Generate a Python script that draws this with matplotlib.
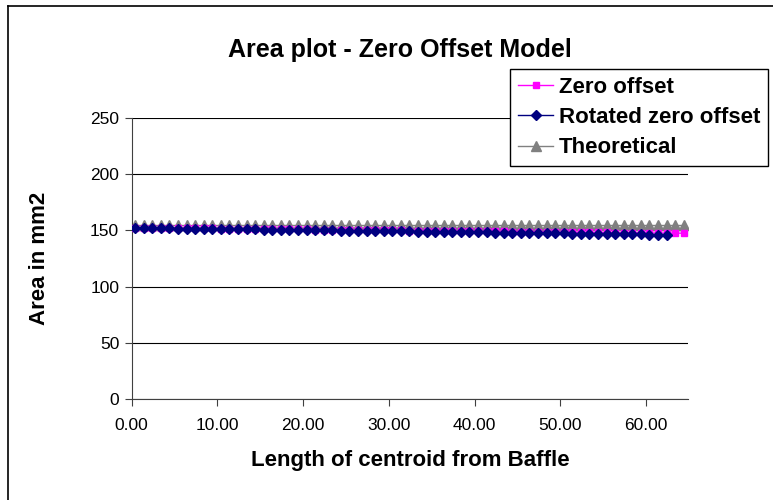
import matplotlib
matplotlib.use("Agg")
import matplotlib.pyplot as plt
from matplotlib.lines import Line2D
from matplotlib.ticker import FormatStrFormatter

plt.rcParams['font.family'] = ['Liberation Sans', 'DejaVu Sans']

# distance of centroid from baffle (one reading per step)
x_zero = [0.4, 1.4, 2.4, 3.4, 4.4, 5.4, 6.4, 7.4, 8.4, 9.4,
          10.4, 11.4, 12.4, 13.4, 14.4, 15.4, 16.4, 17.4, 18.4, 19.4,
          20.4, 21.4, 22.4, 23.4, 24.4, 25.4, 26.4, 27.4, 28.4, 29.4,
          30.4, 31.4, 32.4, 33.4, 34.4, 35.4, 36.4, 37.4, 38.4, 39.4,
          40.4, 41.4, 42.4, 43.4, 44.4, 45.4, 46.4, 47.4, 48.4, 49.4,
          50.4, 51.4, 52.4, 53.4, 54.4, 55.4, 56.4, 57.4, 58.4, 59.4,
          60.4, 61.4, 62.4, 63.4, 64.4]
x_rot = x_zero[:63]

zero_offset = [152.3, 152.2, 152.2, 152.1, 152.0, 152.0, 151.9, 151.8, 151.8, 151.7,
               151.6, 151.6, 151.5, 151.4, 151.3, 151.3, 151.2, 151.1, 151.0, 151.0,
               150.9, 150.8, 150.7, 150.6, 150.6, 150.5, 150.4, 150.3, 150.2, 150.2,
               150.1, 150.0, 149.9, 149.8, 149.8, 149.7, 149.6, 149.5, 149.5, 149.4,
               149.3, 149.2, 149.1, 149.1, 149.0, 148.9, 148.8, 148.8, 148.7, 148.6,
               148.5, 148.5, 148.4, 148.3, 148.2, 148.2, 148.1, 148.0, 147.9, 147.9,
               147.8, 147.7, 147.7, 147.6, 147.5]

rotated = [152.0, 151.9, 151.9, 151.8, 151.7, 151.6, 151.6, 151.5, 151.4, 151.3,
           151.2, 151.1, 151.0, 150.9, 150.9, 150.8, 150.7, 150.6, 150.5, 150.4,
           150.3, 150.2, 150.1, 150.0, 149.9, 149.8, 149.7, 149.6, 149.5, 149.4,
           149.3, 149.2, 149.1, 149.0, 148.9, 148.8, 148.7, 148.6, 148.5, 148.4,
           148.3, 148.2, 148.1, 148.0, 147.9, 147.8, 147.7, 147.6, 147.5, 147.4,
           147.3, 147.2, 147.1, 147.0, 146.9, 146.8, 146.7, 146.6, 146.5, 146.4,
           146.3, 146.1, 146.0]

theoretical = [154.5] * 65

fig = plt.figure(figsize=(7.73, 5.0), dpi=100)
W, H = 773, 500

# outer chart border (only left and top edges fall inside the picture)
fig.lines.append(Line2D([8 / W, 8 / W], [0, 1 - 6 / H], transform=fig.transFigure,
                        color='black', linewidth=1.2))
fig.lines.append(Line2D([8 / W, 1], [1 - 6 / H, 1 - 6 / H], transform=fig.transFigure,
                        color='black', linewidth=1.2))

ax = fig.add_axes([131.7 / W, 101 / H, (688 - 131.7) / W, (399 - 118) / H])

ax.plot(x_zero, zero_offset, color='#FF00FF', marker='s', markersize=4.6,
        linewidth=1, label='Zero offset', zorder=3)
ax.plot(x_rot, rotated, color='#000080', marker='D', markersize=5,
        linewidth=1, label='Rotated zero offset', zorder=4)
ax.plot(x_zero, theoretical, color='#808080', marker='^', markersize=6.8,
        linewidth=1, label='Theoretical', zorder=2)

ax.set_xlim(0, 64.9)
ax.set_ylim(0, 250)
ax.set_xticks([0, 10, 20, 30, 40, 50, 60])
ax.set_yticks([0, 50, 100, 150, 200, 250])
ax.xaxis.set_major_formatter(FormatStrFormatter('%.2f'))
ax.yaxis.grid(True, color='black', linewidth=0.8)
ax.set_axisbelow(True)

for side in ['top', 'right']:
    ax.spines[side].set_visible(False)
for side in ['left', 'bottom']:
    ax.spines[side].set_color('#404040')
ax.tick_params(axis='both', direction='out', length=5, color='#404040',
               labelsize=12.5, pad=4)
ax.tick_params(axis='x', pad=9)

ax.set_xlabel('Length of centroid from Baffle', fontsize=16,
              fontweight='bold', labelpad=12)
ax.set_ylabel('Area in mm2', fontsize=16, fontweight='bold', labelpad=29)

fig.text(0.517, 0.9, 'Area plot - Zero Offset Model', ha='center', va='center',
         fontsize=18, fontweight='bold')

leg = fig.legend(loc='upper left', bbox_to_anchor=(510 / W, 1 - 69 / H),
                 prop={'weight': 'bold', 'size': 16},
                 frameon=True, fancybox=False, framealpha=1,
                 edgecolor='black', handlelength=1.6, handletextpad=0.25,
                 labelspacing=0.42, borderpad=0.35, borderaxespad=0)
leg.get_frame().set_linewidth(1.0)

fig.savefig('out.png', dpi=100)
